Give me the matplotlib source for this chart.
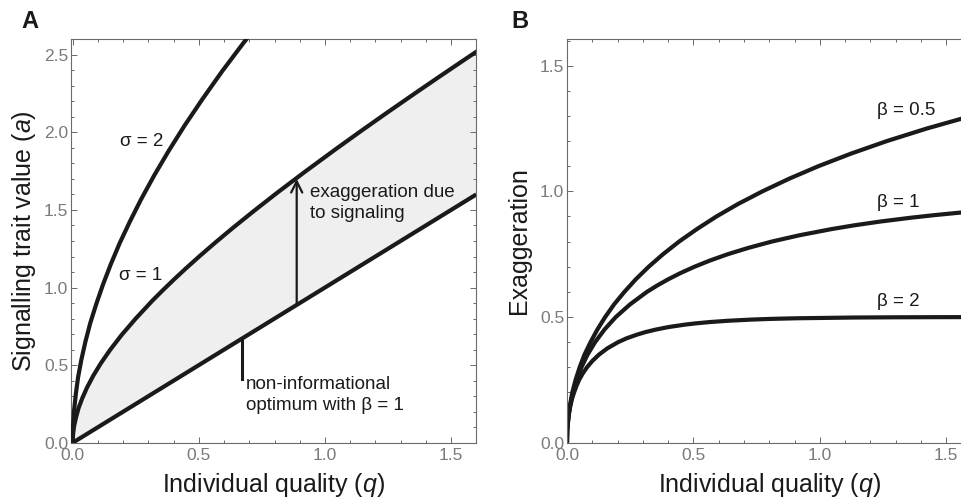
import matplotlib
matplotlib.use('Agg')
import matplotlib.pyplot as plt
from matplotlib.ticker import MultipleLocator, FormatStrFormatter

plt.rcParams['font.family'] = ['Liberation Sans', 'DejaVu Sans']
plt.rcParams['mathtext.fontset'] = 'custom'
plt.rcParams['mathtext.rm'] = 'Liberation Sans'
plt.rcParams['mathtext.it'] = 'Liberation Sans:italic'

# panel A: signalling trait value against quality
optimum_q = [0.0, 1.6]
optimum_a = [0.0, 1.6]

sigma1_q = [0.0, 0.001, 0.005, 0.013, 0.023, 0.038, 0.057, 0.081, 0.111, 0.148, 0.193,
            0.249, 0.316, 0.356, 0.400, 0.449, 0.504, 0.566, 0.636, 0.717, 0.809, 0.918,
            1.047, 1.137, 1.240, 1.359, 1.449, 1.550, 1.606]
sigma1_a = [0.0, 0.051, 0.105, 0.163, 0.223, 0.288, 0.357, 0.431, 0.511, 0.598, 0.693,
            0.799, 0.916, 0.981, 1.050, 1.124, 1.204, 1.291, 1.386, 1.492, 1.609, 1.743,
            1.897, 2.002, 2.120, 2.254, 2.354, 2.465, 2.526]

sigma2_q = [0.0, 0.0003, 0.001, 0.003, 0.005, 0.012, 0.021, 0.034, 0.050, 0.069, 0.093,
            0.120, 0.151, 0.186, 0.227, 0.272, 0.323, 0.380, 0.443, 0.514, 0.591, 0.634,
            0.677, 0.773]
sigma2_a = [0.0, 0.050, 0.101, 0.153, 0.205, 0.312, 0.421, 0.534, 0.650, 0.769, 0.893,
            1.020, 1.151, 1.286, 1.427, 1.572, 1.723, 1.880, 2.043, 2.214, 2.391, 2.484,
            2.577, 2.773]

arrow_q = 0.888
arrow_top = 1.70
pointer_q = 0.671

# panel B: exaggeration against quality
beta05_q = [0.0, 0.0003, 0.001, 0.003, 0.005, 0.012, 0.021, 0.034, 0.050, 0.069, 0.093,
            0.120, 0.151, 0.186, 0.227, 0.272, 0.323, 0.380, 0.443, 0.514, 0.591, 0.634,
            0.677, 0.773, 0.878, 0.994, 1.123, 1.265, 1.423, 1.599]
beta05_e = [0.0, 0.025, 0.05, 0.075, 0.10, 0.15, 0.20, 0.25, 0.30, 0.35, 0.40,
            0.45, 0.50, 0.55, 0.60, 0.65, 0.70, 0.75, 0.80, 0.85, 0.90, 0.925,
            0.95, 1.00, 1.05, 1.10, 1.15, 1.20, 1.25, 1.30]

beta1_q = [0.0, 0.001, 0.005, 0.013, 0.023, 0.038, 0.057, 0.081, 0.111, 0.148, 0.193,
           0.249, 0.316, 0.356, 0.400, 0.449, 0.504, 0.566, 0.636, 0.717, 0.809, 0.918,
           1.047, 1.137, 1.240, 1.359, 1.449, 1.550, 1.606]
beta1_e = [0.0, 0.05, 0.10, 0.15, 0.20, 0.25, 0.30, 0.35, 0.40, 0.45, 0.50,
           0.55, 0.60, 0.625, 0.65, 0.675, 0.70, 0.725, 0.75, 0.775, 0.80, 0.825,
           0.85, 0.865, 0.88, 0.895, 0.905, 0.915, 0.92]

beta2_q = [0.0, 0.001, 0.006, 0.009, 0.014, 0.020, 0.028, 0.037, 0.048, 0.062, 0.079,
           0.100, 0.126, 0.159, 0.202, 0.235, 0.277, 0.310, 0.351, 0.401, 0.468, 0.511,
           0.565, 0.634, 0.733, 0.804, 0.904, 1.131, 1.304, 1.477, 1.706]
beta2_e = [0.0, 0.05, 0.10, 0.125, 0.15, 0.175, 0.20, 0.225, 0.25, 0.275, 0.30,
           0.325, 0.35, 0.375, 0.40, 0.415, 0.43, 0.44, 0.45, 0.46, 0.47, 0.475,
           0.48, 0.485, 0.49, 0.4925, 0.495, 0.498, 0.499, 0.4995, 0.4998]

line_col = '#1a1a1a'
spine_col = '#6a6a6a'
tick_lab_col = '#7a7a7a'
lw = 3.0
txt_size = 13.5


def style_axes(ax):
    for sp in ax.spines.values():
        sp.set_color(spine_col)
        sp.set_linewidth(0.8)
    ax.tick_params(which='both', direction='in', top=True, right=True,
                   color=spine_col, labelcolor=tick_lab_col, labelsize=12.5, width=0.7)
    ax.tick_params(which='major', length=4.5)
    ax.tick_params(which='minor', length=2.5)
    ax.tick_params(axis='x', pad=4)
    ax.tick_params(axis='y', pad=2)
    ax.xaxis.set_major_locator(MultipleLocator(0.5))
    ax.xaxis.set_minor_locator(MultipleLocator(0.1))
    ax.yaxis.set_major_locator(MultipleLocator(0.5))
    ax.yaxis.set_minor_locator(MultipleLocator(0.1))
    ax.xaxis.set_major_formatter(FormatStrFormatter('%.1f'))
    ax.yaxis.set_major_formatter(FormatStrFormatter('%.1f'))


def curve(ax, x, y, **kw):
    ax.plot(x, y, color=line_col, lw=lw, solid_joinstyle='round',
            solid_capstyle='butt', **kw)


fig = plt.figure(figsize=(9.61, 4.99), dpi=100)

# ---- panel A
ax = fig.add_axes([71 / 961, 56.3 / 499, 404.5 / 961, 403.4 / 499])
style_axes(ax)
ax.fill_between(sigma1_q, sigma1_q, sigma1_a, color='#efefef', lw=0, zorder=1)
curve(ax, optimum_q, optimum_a, zorder=3)
curve(ax, sigma1_q, sigma1_a, zorder=3)
curve(ax, sigma2_q, sigma2_a, zorder=3)
ax.annotate('', xy=(arrow_q, arrow_top), xytext=(arrow_q, arrow_q),
            arrowprops=dict(arrowstyle='->', lw=1.6, color=line_col,
                            shrinkA=0, shrinkB=0, mutation_scale=20), zorder=4)
ax.plot([pointer_q, pointer_q], [pointer_q, 0.41], color=line_col, lw=2.2, zorder=3)
ax.text(0.36, 1.94, 'σ = 2', ha='right', va='center', fontsize=txt_size, color=line_col)
ax.text(0.355, 1.075, 'σ = 1', ha='right', va='center', fontsize=txt_size, color=line_col)
ax.text(0.94, 1.545, 'exaggeration due\nto signaling', ha='left', va='center',
        fontsize=txt_size, color=line_col, linespacing=1.32)
ax.text(0.688, 0.305, 'non-informational\noptimum with β = 1', ha='left', va='center',
        fontsize=txt_size, color=line_col, linespacing=1.32)
ax.set_xlim(-0.007, 1.597)
ax.set_ylim(0, 2.6)
ax.set_xlabel('Individual quality ($\\mathit{q}$)', fontsize=18, color=line_col)
ax.set_ylabel('Signalling trait value ($\\mathit{a}$)', fontsize=18, color=line_col)
ax.xaxis.set_label_coords(0.5, -0.07)
ax.yaxis.set_label_coords(-0.082, 0.5)

# ---- panel B
bx = fig.add_axes([567 / 961, 56.3 / 499, 404.5 / 961, 403.4 / 499])
style_axes(bx)
curve(bx, beta05_q, beta05_e)
curve(bx, beta1_q, beta1_e)
curve(bx, beta2_q, beta2_e)
bx.text(1.226, 1.323, 'β = 0.5', ha='left', va='center', fontsize=txt_size, color=line_col)
bx.text(1.226, 0.955, 'β = 1', ha='left', va='center', fontsize=txt_size, color=line_col)
bx.text(1.226, 0.561, 'β = 2', ha='left', va='center', fontsize=txt_size, color=line_col)
bx.set_xlim(0, 1.6)
bx.set_ylim(0, 1.605)
bx.set_xlabel('Individual quality ($\\mathit{q}$)', fontsize=18, color=line_col)
bx.set_ylabel('Exaggeration', fontsize=18, color=line_col)
bx.xaxis.set_label_coords(0.5, -0.07)
bx.yaxis.set_label_coords(-0.089, 0.5)

fig.text(30 / 961, 1 - 21 / 499, 'A', fontsize=17, fontweight='bold',
         ha='center', va='center', color=line_col)
fig.text(520 / 961, 1 - 21 / 499, 'B', fontsize=17, fontweight='bold',
         ha='center', va='center', color=line_col)

plt.savefig('out.png', dpi=100)
